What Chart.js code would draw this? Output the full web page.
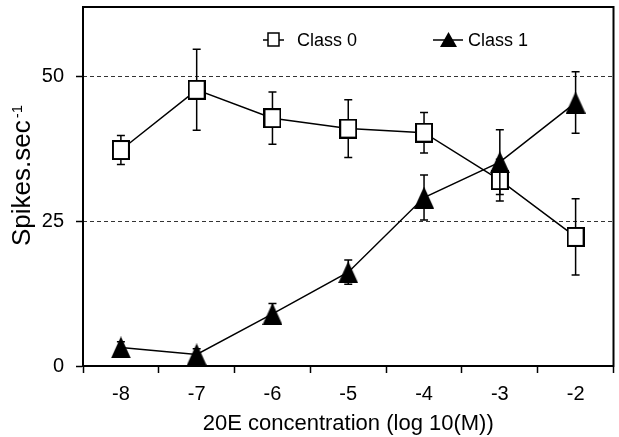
<!DOCTYPE html>
<html>
<head>
    <title>20E dose response</title>
    <script src="https://cdn.jsdelivr.net/npm/chart.js@4.4.0/dist/chart.umd.min.js"></script>
    <style>
        body {
            margin: 0;
            background: #fff;
        }
        #chart {
            display: block;
        }
    </style>
</head>
<body>
    <canvas id="chart" width="619" height="437"></canvas>

    <script>
        // values (log10 molar concentration of 20E)
        const concentrations = ['-8', '-7', '-6', '-5', '-4', '-3', '-2'];
        const class0Mean = [37.3, 47.7, 42.8, 41.0, 40.3, 32.1, 22.3];
        const class0Err = [2.5, 7.0, 4.5, 5.0, 3.5, 3.6, 6.6];
        const class1Mean = [3.2, 2.0, 9.0, 16.2, 29.1, 35.2, 45.5];
        const class1Err = [1.0, 1.0, 1.8, 2.1, 3.9, 5.6, 5.3];
        const yTicks = [0, 25, 50];

        const family = '"Liberation Sans", Arial, sans-serif';

        // marker images
        function squareMarker(w, h) {
            const c = document.createElement('canvas');
            c.width = w; c.height = h;
            const g = c.getContext('2d');
            g.fillStyle = '#fff';
            g.fillRect(0, 0, w, h);
            g.strokeStyle = '#000';
            g.lineWidth = 2;
            g.strokeRect(1, 1, w - 2, h - 2);
            return c;
        }
        function triangleMarker(w, h) {
            const c = document.createElement('canvas');
            c.width = w; c.height = h;
            const g = c.getContext('2d');
            g.fillStyle = '#000';
            g.beginPath();
            g.moveTo(w / 2, 0);
            g.lineTo(w, h);
            g.lineTo(0, h);
            g.closePath();
            g.fill();
            return c;
        }
        const squareImg = squareMarker(18, 20);
        const triangleImg = triangleMarker(20, 22);

        const errorBars = {
            id: 'errorBars',
            beforeDatasetDraw(chart, args) {
                const ds = chart.data.datasets[args.index];
                if (!ds.errors) return;
                const ctx = chart.ctx;
                const y = chart.scales.y;
                ctx.save();
                ctx.strokeStyle = '#000';
                ctx.lineWidth = 1.5;
                args.meta.data.forEach((pt, i) => {
                    const v = ds.data[i], e = ds.errors[i];
                    const top = y.getPixelForValue(v + e);
                    const bot = y.getPixelForValue(v - e);
                    ctx.beginPath();
                    ctx.moveTo(pt.x, top); ctx.lineTo(pt.x, bot);
                    ctx.moveTo(pt.x - 4, top); ctx.lineTo(pt.x + 4, top);
                    ctx.moveTo(pt.x - 4, bot); ctx.lineTo(pt.x + 4, bot);
                    ctx.stroke();
                });
                ctx.restore();
            }
        };

        const frame = {
            id: 'frame',
            beforeDatasetsDraw(chart) {
                const ctx = chart.ctx, a = chart.chartArea, y = chart.scales.y;
                ctx.save();
                ctx.strokeStyle = '#333';
                ctx.lineWidth = 1;
                ctx.setLineDash([4, 3]);
                yTicks.forEach(v => {
                    if (v === 0) return;
                    const py = Math.round(y.getPixelForValue(v)) + 0.5;
                    ctx.beginPath();
                    ctx.moveTo(a.left, py);
                    ctx.lineTo(a.right, py);
                    ctx.stroke();
                });
                ctx.restore();
            },
            afterDraw(chart) {
                const ctx = chart.ctx, a = chart.chartArea;
                ctx.save();
                ctx.strokeStyle = '#000';
                ctx.lineWidth = 2;
                ctx.strokeRect(a.left, a.top, a.right - a.left, a.bottom - a.top);

                // y title with superscript
                ctx.fillStyle = '#000';
                ctx.translate(30, 246);
                ctx.rotate(-Math.PI / 2);
                ctx.font = '26px ' + family;
                ctx.textBaseline = 'alphabetic';
                ctx.fillText('Spikes.sec', 0, 0);
                const w = ctx.measureText('Spikes.sec').width;
                ctx.font = '15px ' + family;
                ctx.fillText('-1', w + 2, -8);
                ctx.restore();

                // legend
                ctx.save();
                ctx.strokeStyle = '#000';
                ctx.fillStyle = '#000';
                ctx.lineWidth = 1.5;
                ctx.beginPath();
                ctx.moveTo(263, 40); ctx.lineTo(284, 40);
                ctx.moveTo(433, 40); ctx.lineTo(463, 40);
                ctx.stroke();
                ctx.fillStyle = '#fff';
                ctx.fillRect(268, 33, 11, 13);
                ctx.strokeRect(268, 33, 11, 13);
                ctx.fillStyle = '#000';
                ctx.beginPath();
                ctx.moveTo(448.5, 32); ctx.lineTo(457, 47); ctx.lineTo(440, 47);
                ctx.closePath();
                ctx.fill();
                ctx.font = '18px ' + family;
                ctx.textBaseline = 'middle';
                ctx.fillText('Class 0', 297, 41);
                ctx.fillText('Class 1', 468, 41);
                ctx.restore();
            }
        };

        const tickFont = { family: family, size: 20 };

        new Chart(document.getElementById('chart'), {
            type: 'line',
            data: {
                labels: concentrations,
                datasets: [
                    {
                        label: 'Class 0',
                        data: class0Mean,
                        errors: class0Err,
                        borderColor: '#000',
                        borderWidth: 1.5,
                        pointStyle: squareImg,
                        order: 1
                    },
                    {
                        label: 'Class 1',
                        data: class1Mean,
                        errors: class1Err,
                        borderColor: '#000',
                        borderWidth: 1.5,
                        pointStyle: triangleImg,
                        order: 0
                    }
                ]
            },
            options: {
                responsive: false,
                animation: false,
                layout: { padding: { top: 7, right: 1, left: 0, bottom: 0 } },
                plugins: {
                    legend: { display: false },
                    tooltip: { enabled: false }
                },
                scales: {
                    x: {
                        type: 'category',
                        offset: true,
                        grid: { offset: true, drawOnChartArea: false, tickLength: 7, tickColor: '#000', tickWidth: 1.5 },
                        border: { color: '#000', width: 2 },
                        ticks: { font: tickFont, color: '#000', padding: 9 },
                        title: {
                            display: true,
                            text: '20E concentration (log 10(M))',
                            font: { family: family, size: 22 },
                            color: '#000',
                            padding: { top: 0, bottom: 0 }
                        },
                        afterFit(s) {
                            s.height = 71;
                            s.paddingLeft = 0;
                            s.paddingRight = 0;
                        }
                    },
                    y: {
                        min: 0,
                        max: 62,
                        grid: { drawOnChartArea: false, tickLength: 7, tickColor: '#000', tickWidth: 1.5 },
                        border: { color: '#000', width: 2 },
                        ticks: { font: tickFont, color: '#000', padding: 12 },
                        afterBuildTicks(s) { s.ticks = yTicks.map(v => ({ value: v })); },
                        afterFit(s) {
                            s.width = 83;
                            s.paddingTop = 0;
                            s.paddingBottom = 0;
                        }
                    }
                }
            },
            plugins: [errorBars, frame]
        });
    </script>
</body>
</html>
